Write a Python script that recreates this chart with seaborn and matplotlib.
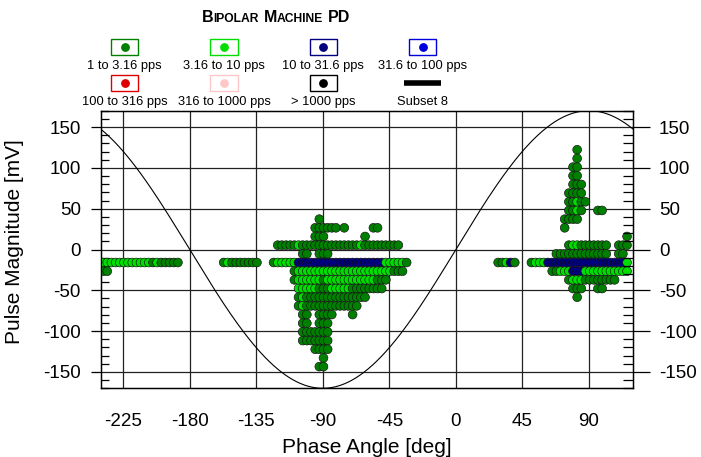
import numpy as np
import pandas as pd
import matplotlib
matplotlib.use("Agg")
import matplotlib.pyplot as plt
import seaborn as sns
from matplotlib.patches import Rectangle
from matplotlib.lines import Line2D
from matplotlib.offsetbox import TextArea, HPacker, AnchoredOffsetbox
from matplotlib.ticker import MultipleLocator

# histogram bins of the phase resolved PD pattern
PHASE_START = -240.0
PHASE_BIN = 2.8125      # 360 deg / 128
MAG_START = -170.0
MAG_BIN = 10.625        # 340 mV / 32
SINE_AMPL = 170.0

# filled cells
# (magnitude bin, first phase bin, last phase bin, rate class)
runs_left = [
    (14, 0, 11, "l"), (14, 12, 12, "g"), (14, 13, 13, "l"), (14, 14, 18, "g"),
    (13, 0, 1, "g"),
    (14, 29, 29, "g"), (14, 30, 30, "l"), (14, 31, 37, "g"),
]
runs_middle = [
    (19, 52, 52, "g"),
    (18, 51, 56, "g"), (18, 58, 58, "g"), (18, 65, 66, "g"),
    (17, 51, 53, "g"), (17, 63, 63, "g"),
    (16, 42, 46, "g"), (16, 47, 47, "l"), (16, 48, 61, "g"), (16, 62, 62, "l"), (16, 63, 71, "g"),
    (15, 48, 49, "g"), (15, 52, 54, "g"),
    (14, 41, 41, "g"), (14, 42, 46, "l"), (14, 47, 67, "n"), (14, 68, 72, "l"), (14, 73, 73, "g"),
    (13, 46, 46, "g"), (13, 47, 69, "l"), (13, 70, 72, "g"),
    (12, 46, 46, "g"), (12, 47, 52, "l"), (12, 53, 53, "g"), (12, 54, 65, "l"), (12, 66, 68, "g"),
    (11, 47, 51, "l"), (11, 52, 54, "g"), (11, 55, 59, "l"), (11, 60, 67, "g"),
    (10, 47, 47, "g"), (10, 48, 48, "l"), (10, 49, 63, "g"),
    (9, 47, 47, "g"), (9, 48, 48, "l"), (9, 49, 61, "g"),
    (8, 48, 49, "g"), (8, 52, 55, "g"), (8, 60, 60, "g"),
    (7, 48, 49, "g"), (7, 52, 54, "g"),
    (6, 48, 54, "g"),
    (5, 48, 54, "g"),
    (4, 51, 54, "g"),
    (3, 53, 53, "g"),
    (2, 52, 53, "g"),
]
runs_right = [
    (27, 114, 114, "g"), (26, 114, 114, "g"),
    (25, 113, 114, "g"), (24, 113, 114, "g"),
    (23, 113, 115, "g"), (22, 112, 115, "g"),
    (21, 112, 113, "g"), (21, 114, 114, "l"), (21, 115, 116, "g"),
    (20, 112, 113, "g"), (20, 114, 114, "l"), (20, 115, 115, "g"), (20, 119, 120, "g"),
    (19, 111, 114, "g"), (18, 111, 111, "g"),
    (17, 126, 126, "g"),
    (16, 112, 112, "g"), (16, 113, 114, "l"), (16, 115, 121, "g"), (16, 124, 126, "g"),
    (15, 109, 121, "g"), (15, 124, 125, "g"),
    (14, 95, 96, "g"), (14, 97, 97, "l"), (14, 98, 98, "n"), (14, 99, 99, "g"),
    (14, 103, 103, "g"), (14, 104, 106, "l"), (14, 107, 125, "n"), (14, 126, 126, "l"),
    (13, 108, 109, "g"), (13, 110, 112, "l"), (13, 113, 115, "n"), (13, 116, 126, "l"),
    (12, 112, 112, "g"), (12, 113, 115, "l"), (12, 116, 123, "g"),
    (11, 113, 115, "g"), (11, 119, 120, "g"),
    (10, 114, 114, "g"),
]

legend_labels = ["1 to 3.16 pps", "3.16 to 10 pps", "10 to 31.6 pps", "31.6 to 100 pps",
                 "100 to 316 pps", "316 to 1000 pps", "> 1000 pps"]
legend_colors = ["#008000", "#00dd00", "#000080", "#0000dd",
                 "#dd0000", "#ffc8c8", "#000000"]
class_label = {"g": legend_labels[0], "l": legend_labels[1], "n": legend_labels[2]}

xticks = [-225, -180, -135, -90, -45, 0, 45, 90]
yticks = [-150, -100, -50, 0, 50, 100, 150]

rows = []
for m, j0, j1, c in runs_left + runs_middle + runs_right:
    for j in range(j0, j1 + 1):
        rows.append((PHASE_START + PHASE_BIN * (j + 0.5),
                     MAG_START + MAG_BIN * (m + 0.5),
                     class_label[c]))
df = pd.DataFrame(rows, columns=["phase", "mag", "rate"])

sns.set_style("white")
plt.rcParams["font.family"] = ["Liberation Sans", "DejaVu Sans"]
plt.rcParams.update({"axes.unicode_minus": False, "text.color": "black",
                     "axes.labelcolor": "black", "xtick.color": "black",
                     "ytick.color": "black"})

W, H = 701, 457
fig = plt.figure(figsize=(W / 100, H / 100), dpi=100)
ax = fig.add_axes([101 / W, 1 - 388.3 / H, 532.3 / W, 277.6 / H])

# reference sine of the supply voltage
ph = np.linspace(-240, 120, 721)
sns.lineplot(x=ph, y=SINE_AMPL * np.sin(np.radians(ph)), color="black", lw=0.8, ax=ax, zorder=2)

palette = dict(zip(legend_labels, legend_colors))
sns.scatterplot(data=df, x="phase", y="mag", hue="rate", palette=palette, s=40,
                edgecolor="#101010", linewidth=0.45, legend=False, ax=ax, zorder=3)

ax.set_xlim(-240, 120)
ax.set_ylim(-170, 170)
ax.set_xticks(xticks)
ax.set_yticks(yticks)
ax.xaxis.set_minor_locator(MultipleLocator(15))
ax.yaxis.set_minor_locator(MultipleLocator(10))
ax.grid(which="major", color="#222222", lw=0.9)
ax.set_axisbelow(True)
for s in ax.spines.values():
    s.set_color("black")
    s.set_linewidth(1)

ax.tick_params(axis="x", which="major", direction="out", length=12, width=0.9,
               pad=6, labelsize=13.5, top=False)
ax.tick_params(axis="x", which="minor", direction="in", length=8.6, width=0.9, top=False)
ax.tick_params(axis="y", which="major", direction="out", length=7.5, width=0.9,
               pad=7, labelsize=13.5, right=False)
ax.tick_params(axis="y", which="minor", direction="in", length=5.8, width=0.9, right=False)

ax2 = ax.twinx()
ax2.set_ylim(-170, 170)
ax2.set_yticks(yticks)
ax2.yaxis.set_minor_locator(MultipleLocator(10))
ax2.tick_params(axis="y", which="major", direction="out", length=12, width=0.9,
                pad=6.5, labelsize=13.5)
ax2.tick_params(axis="y", which="minor", direction="in", length=7.2, width=0.9)
for s in ax2.spines.values():
    s.set_color("black")

ax.set_xlabel("Phase Angle [deg]", fontsize=15)
ax.xaxis.set_label_coords(0.5, -0.18)
ax.set_ylabel("Pulse Magnitude [mV]", fontsize=15)
ax.yaxis.set_label_coords(-0.145, 0.53)

# title in small caps
def word(txt):
    return HPacker(children=[TextArea(txt[0], textprops=dict(fontsize=11.5, fontweight="bold")),
                             TextArea(txt[1:], textprops=dict(fontsize=8.7, fontweight="bold"))],
                   align="baseline", pad=0, sep=0)

title = HPacker(children=[word("BIPOLAR"), word("MACHINE"),
                          TextArea("PD", textprops=dict(fontsize=11.5, fontweight="bold"))],
                align="baseline", pad=0, sep=3.5)
tbox = AnchoredOffsetbox(loc="center", child=title, frameon=False, pad=0, borderpad=0,
                         bbox_to_anchor=(276 / W, 1 - 17 / H), bbox_transform=fig.transFigure)
fig.add_artist(tbox)

# legend boxes above the plot
col_x = [124.7, 224, 323.3, 422.7]
box_y = [46.7, 83.3]
lab_y = [66, 101.7]
bw, bh = 27.3, 16
for k, (lab, col) in enumerate(zip(legend_labels, legend_colors)):
    cx, r = col_x[k % 4], k // 4
    fig.add_artist(Rectangle(((cx - bw / 2) / W, 1 - (box_y[r] + bh / 2) / H), bw / W, bh / H,
                             transform=fig.transFigure, fill=False, edgecolor=col, lw=1))
    fig.add_artist(Line2D([cx / W], [1 - box_y[r] / H], marker="o", ms=5.3, color=col,
                          transform=fig.transFigure))
    fig.text(cx / W, 1 - lab_y[r] / H, lab, ha="center", va="center", fontsize=9.3)

fig.add_artist(Line2D([(422.7 - 18.5) / W, (422.7 + 18.5) / W], [1 - 82.7 / H] * 2,
                      color="black", lw=4, solid_capstyle="butt", transform=fig.transFigure))
fig.text(422.7 / W, 1 - lab_y[1] / H, "Subset 8", ha="center", va="center", fontsize=9.3)

fig.savefig("out.png", dpi=100)
